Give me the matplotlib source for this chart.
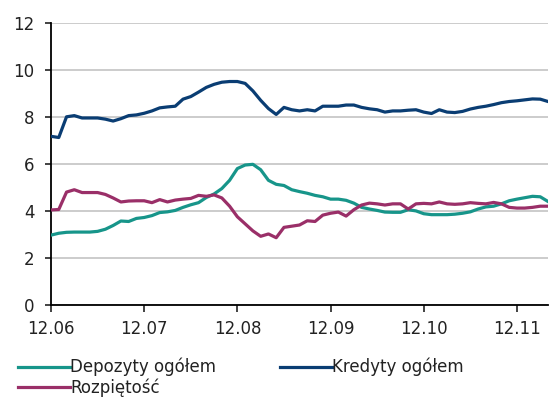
import matplotlib
matplotlib.use("Agg")
import matplotlib.pyplot as plt
import numpy as np

months = list(range(65))
tick_labels = ["12.06", "12.07", "12.08", "12.09", "12.10", "12.11"]
tick_positions = [0, 12, 24, 36, 48, 60]

depozyty = [2.97, 3.05, 3.09, 3.10, 3.10, 3.10, 3.13, 3.22, 3.38, 3.57,
            3.55, 3.68, 3.72, 3.80, 3.93, 3.96, 4.02, 4.15, 4.26, 4.35,
            4.57, 4.72, 4.95, 5.30, 5.80, 5.95, 5.98, 5.75, 5.30, 5.13,
            5.08, 4.90, 4.82, 4.75, 4.66, 4.60, 4.50, 4.50, 4.45, 4.33,
            4.15, 4.08, 4.02, 3.95, 3.94, 3.94, 4.05, 4.00, 3.88, 3.84,
            3.84, 3.84, 3.86, 3.90, 3.96, 4.08, 4.17, 4.20, 4.30, 4.43,
            4.50, 4.56, 4.62, 4.60, 4.40]

kredyty = [7.17, 7.12, 8.00, 8.05, 7.95, 7.95, 7.95, 7.90, 7.82, 7.92,
           8.05, 8.08, 8.15, 8.25, 8.38, 8.42, 8.45, 8.75, 8.86, 9.05,
           9.25, 9.38, 9.47, 9.50, 9.50, 9.42, 9.10, 8.70, 8.35, 8.10,
           8.40, 8.30, 8.25, 8.30, 8.25, 8.45, 8.45, 8.45, 8.50, 8.50,
           8.40, 8.34, 8.30, 8.20, 8.25, 8.25, 8.28, 8.30, 8.20, 8.14,
           8.30, 8.20, 8.18, 8.23, 8.33, 8.40, 8.45, 8.52, 8.60, 8.65,
           8.68, 8.72, 8.76, 8.75, 8.65]

rozpietosc = [4.04, 4.06, 4.80, 4.90, 4.78, 4.78, 4.78, 4.70, 4.55, 4.38,
              4.42, 4.43, 4.43, 4.35, 4.48, 4.38, 4.46, 4.50, 4.53, 4.66,
              4.62, 4.68, 4.55, 4.20, 3.75, 3.45, 3.15, 2.92, 3.02, 2.86,
              3.30, 3.35, 3.40, 3.58, 3.55, 3.82, 3.90, 3.95, 3.78, 4.05,
              4.25, 4.33, 4.30, 4.25, 4.30, 4.30, 4.08, 4.30, 4.32, 4.30,
              4.38, 4.30, 4.28, 4.30, 4.35, 4.32, 4.30, 4.36, 4.30, 4.15,
              4.12, 4.12, 4.15, 4.20, 4.20]

c_dep = "#17958A"
c_kred = "#0A3D73"
c_roz = "#9A2F68"

plt.rcParams['font.family'] = ['DejaVu Sans']
fig = plt.figure(figsize=(5.51, 4.0), dpi=100)
ax = fig.add_axes([51/551, 1 - 305/400, (548 - 51)/551, (305 - 22.7)/400])

l_dep, = ax.plot(months, depozyty, color=c_dep, lw=2.3, zorder=3)
l_kred, = ax.plot(months, kredyty, color=c_kred, lw=2.3, zorder=3)
l_roz, = ax.plot(months, rozpietosc, color=c_roz, lw=2.3, zorder=3)

ax.set_xlim(0, 64)
ax.set_ylim(0, 12)
ax.set_yticks([0, 2, 4, 6, 8, 10, 12])
ax.set_xticks(tick_positions)
ax.set_xticklabels(tick_labels)
ax.tick_params(axis='both', labelsize=12, colors='#222222', length=5, width=1.2, direction='out')
ax.tick_params(axis='y', length=4, pad=8)
ax.tick_params(axis='x', pad=6)
ax.yaxis.grid(True, color='#C8C8C8', lw=1.3)
ax.set_axisbelow(True)
for s in ['top', 'right']:
    ax.spines[s].set_visible(False)
ax.spines['left'].set_color('#000000')
ax.spines['bottom'].set_color('#000000')
ax.spines['left'].set_linewidth(1.3)
ax.spines['bottom'].set_linewidth(1.3)

leg = fig.legend([l_dep, l_roz, l_kred], ["Depozyty ogółem", "Rozpiętość", "Kredyty ogółem"],
                 loc='upper left', bbox_to_anchor=(18/551, 1 - 358/400), ncol=2,
                 frameon=False, fontsize=12, handlelength=3.1, handletextpad=0.05,
                 columnspacing=3.8, labelspacing=0.1, borderaxespad=0, borderpad=0)
for t in leg.get_texts():
    t.set_color('#222222')

fig.savefig("out.png", dpi=100)
